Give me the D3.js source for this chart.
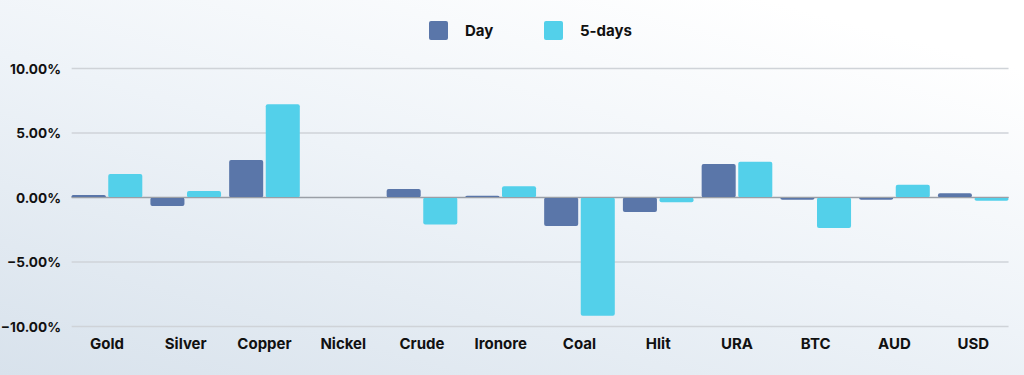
<!DOCTYPE html>
<html><head><meta charset="utf-8">
<script src="https://cdn.jsdelivr.net/npm/d3@7"></script>
<style>
html,body{margin:0;padding:0;width:1024px;height:375px;overflow:hidden;}
svg{display:block;font-family:"Inter","Lato",sans-serif;}
</style></head>
<body><svg id="chart" width="1024" height="375"></svg>
<script>
const categories = ["Gold","Silver","Copper","Nickel","Crude","Ironore","Coal","Hlit","URA","BTC","AUD","USD"];
const dayValues = [0.19,-0.66,2.90,0,0.66,0.14,-2.20,-1.12,2.60,-0.17,-0.17,0.33];
const fiveDayValues = [1.82,0.50,7.22,0,-2.10,0.87,-9.16,-0.37,2.78,-2.36,0.99,-0.25];
const seriesNames = ["Day","5-days"];
const seriesColors = ["#5a76a9","#53d0ea"];
const yTicks = [-10,-5,0,5,10];

const svg = d3.select("#chart");
const W = 1024, H = 375;

const defs = svg.append("defs");
const grad = defs.append("linearGradient").attr("id","bg")
  .attr("x1","0%").attr("y1","100%").attr("x2","75%").attr("y2","0%");
grad.append("stop").attr("offset","0%").attr("stop-color","#d8e2ec");
grad.append("stop").attr("offset","55%").attr("stop-color","#eef3f8");
grad.append("stop").attr("offset","100%").attr("stop-color","#ffffff");
svg.append("rect").attr("width",W).attr("height",H).attr("fill","url(#bg)");

const y = d3.scaleLinear().domain([-10,10]).range([326.5,68.5]);
const x0 = d3.scaleBand().domain(categories).range([67.6,1012.6]).padding(0);
const groupW = x0.bandwidth()*0.897;
const x1 = d3.scaleBand().domain(seriesNames).range([0,groupW]).paddingInner(0.07);
const gridLeft = x0(categories[0]) + (x0.bandwidth()-groupW)/2;
const gridRight = x0(categories[categories.length-1]) + (x0.bandwidth()+groupW)/2;

// grid
svg.append("g").selectAll("line").data(yTicks).join("line")
  .attr("x1",gridLeft).attr("x2",gridRight)
  .attr("y1",d=>y(d)).attr("y2",d=>y(d))
  .attr("stroke",d=>d===0?"#9a9fa6":"#cfd3d8").attr("stroke-width",d=>d===0?1.5:1.3);

// y labels
const yAxis = d3.axisLeft(y).tickValues(yTicks).tickSize(0).tickPadding(0)
  .tickFormat(d=>d3.format(".2f")(d)+"%");
const ya = svg.append("g").attr("transform","translate(61,0)").call(yAxis);
ya.select(".domain").remove();
ya.selectAll("text").attr("font-size",13.6).attr("font-weight",700).attr("fill","#111")
  .attr("font-family","Inter, Lato, sans-serif").attr("dy","0.35em");

// x labels
const xAxis = d3.axisBottom(x0).tickSize(0).tickPadding(0);
const xa = svg.append("g").attr("transform","translate(0,338)").call(xAxis);
xa.select(".domain").remove();
xa.selectAll("text").attr("font-size",15).attr("font-weight",700).attr("fill","#111")
  .attr("font-family","Inter, Lato, sans-serif").attr("dy","0.72em");

// bars
const data = categories.map((c,i)=>({cat:c, vals:[dayValues[i],fiveDayValues[i]]}));
const groups = svg.append("g").selectAll("g").data(data).join("g")
  .attr("transform",d=>`translate(${x0(d.cat)+(x0.bandwidth()-groupW)/2},0)`);
groups.selectAll("rect").data(d=>d.vals.map((v,j)=>({v, s:seriesNames[j], j})))
  .join("rect")
  .attr("x",d=>x1(d.s)).attr("width",x1.bandwidth())
  .attr("y",d=>Math.min(y(d.v),y(0))).attr("height",d=>Math.abs(y(d.v)-y(0)))
  .attr("rx",2).attr("fill",d=>seriesColors[d.j]);

// zero line above bars
svg.append("line").attr("x1",gridLeft).attr("x2",gridRight)
  .attr("y1",y(0)).attr("y2",y(0)).attr("stroke","#9a9fa6").attr("stroke-width",1.2);

// legend
const legendX = [429, 544];
const lg = svg.append("g").selectAll("g").data(seriesNames).join("g")
  .attr("transform",(d,i)=>`translate(${legendX[i]},21)`);
lg.append("rect").attr("width",19).attr("height",19).attr("rx",2)
  .attr("fill",(d,i)=>seriesColors[i]);
lg.append("text").attr("x",36).attr("y",15).text(d=>d)
  .attr("font-size",15).attr("font-weight",700).attr("fill","#111");
</script></body></html>
